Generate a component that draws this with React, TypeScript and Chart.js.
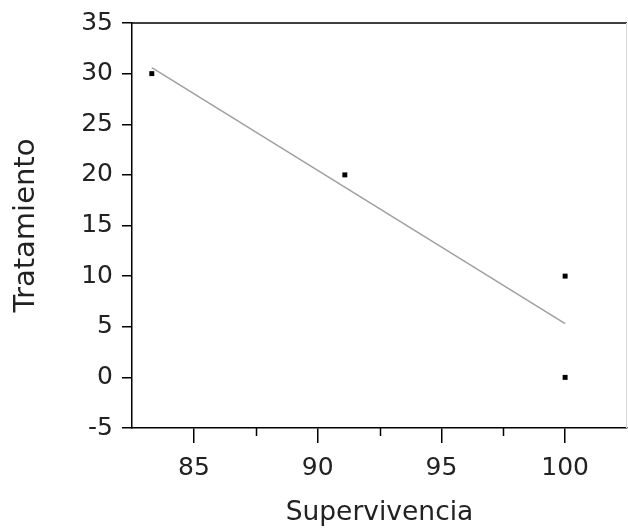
import React, { useEffect, useRef } from "react";
import { Chart, registerables } from "chart.js";

Chart.register(...registerables);

// Observed data: survival (%) against treatment level
const supervivencia = [100, 100, 91.1, 83.3];
const tratamiento = [0, 10, 20, 30];

// Fitted regression line endpoints
const fitX = [83.3, 100];
const fitY = [30.6, 5.3];

// Axis ticks
const xTicks = [85, 90, 95, 100];
const xMinorTicks = [87.5, 92.5, 97.5];
const yTicks = [-5, 0, 5, 10, 15, 20, 25, 30, 35];

const FONT = "'DejaVu Sans', sans-serif";

const framePlugin = {
  id: "frame",
  afterDraw(chart: any) {
    const { ctx, chartArea: a, scales } = chart;
    ctx.save();
    ctx.strokeStyle = "#000";
    ctx.lineWidth = 1.5;
    ctx.beginPath();
    ctx.moveTo(a.left, a.top);
    ctx.lineTo(a.right, a.top);
    ctx.stroke();
    // minor ticks on the x axis
    for (const v of xMinorTicks) {
      const px = Math.round(scales.x.getPixelForValue(v)) + 0.5;
      ctx.beginPath();
      ctx.moveTo(px, a.bottom);
      ctx.lineTo(px, a.bottom + 8);
      ctx.stroke();
    }
    // faint right edge
    ctx.strokeStyle = "#d8d8d8";
    ctx.lineWidth = 1;
    ctx.beginPath();
    ctx.moveTo(a.right - 0.5, a.top);
    ctx.lineTo(a.right - 0.5, a.bottom);
    ctx.stroke();
    ctx.restore();
  },
};

export default function App() {
  const canvasRef = useRef<HTMLCanvasElement | null>(null);

  useEffect(() => {
    const canvas = canvasRef.current;
    if (!canvas) return;
    const chart = new Chart(canvas, {
      type: "scatter",
      data: {
        datasets: [
          {
            label: "Ajuste",
            data: fitX.map((x, i) => ({ x, y: fitY[i] })),
            showLine: true,
            borderColor: "#a0a0a0",
            borderWidth: 1.5,
            pointRadius: 0,
            fill: false,
          },
          {
            label: "Observado",
            data: supervivencia.map((x, i) => ({ x, y: tratamiento[i] })),
            showLine: false,
            pointStyle: "rect",
            pointRadius: 3.5,
            backgroundColor: "#000",
            borderColor: "#000",
            borderWidth: 0,
          },
        ],
      },
      options: {
        responsive: false,
        animation: false,
        events: [],
        layout: { autoPadding: false, padding: { left: 0, top: 23, right: 1, bottom: 0 } },
        plugins: {
          legend: { display: false },
          tooltip: { enabled: false },
        },
        scales: {
          x: {
            type: "linear",
            min: 82.5,
            max: 102.5,
            afterBuildTicks: (s: any) => {
              s.ticks = xTicks.map((v) => ({ value: v }));
            },
            afterFit: (s: any) => {
              s.height = 101;
              s.paddingLeft = 0;
              s.paddingRight = 0;
            },
            border: { display: true, color: "#000", width: 1.5 },
            grid: {
              drawOnChartArea: false,
              drawTicks: true,
              tickLength: 15,
              color: "#000",
              lineWidth: 1.5,
            },
            ticks: {
              padding: 10,
              color: "#222",
              font: { family: FONT, size: 25 },
              callback: (v: any) => String(v),
            },
            title: {
              display: true,
              text: "Supervivencia",
              color: "#222",
              font: { family: FONT, size: 26.5 },
              padding: { top: -3, bottom: 0 },
            },
          },
          y: {
            type: "linear",
            min: -5,
            max: 35,
            afterBuildTicks: (s: any) => {
              s.ticks = yTicks.map((v) => ({ value: v }));
            },
            afterFit: (s: any) => {
              s.width = 132;
              s.paddingTop = 0;
              s.paddingBottom = 0;
            },
            border: { display: true, color: "#000", width: 1.5 },
            grid: {
              drawOnChartArea: false,
              drawTicks: true,
              tickLength: 10,
              color: "#000",
              lineWidth: 1.5,
            },
            ticks: {
              padding: 9,
              color: "#222",
              font: { family: FONT, size: 25 },
              callback: (v: any) => String(v),
            },
            title: {
              display: true,
              text: "Tratamiento",
              color: "#222",
              font: { family: FONT, size: 29 },
              padding: { top: 9, bottom: 0 },
            },
          },
        },
      },
      plugins: [framePlugin],
    });
    return () => chart.destroy();
  }, []);

  return (
    <div style={{ position: "absolute", left: 0, top: 0, width: 628, height: 529, background: "#fff" }}>
      <canvas ref={canvasRef} width={628} height={529} style={{ display: "block" }} />
    </div>
  );
}
